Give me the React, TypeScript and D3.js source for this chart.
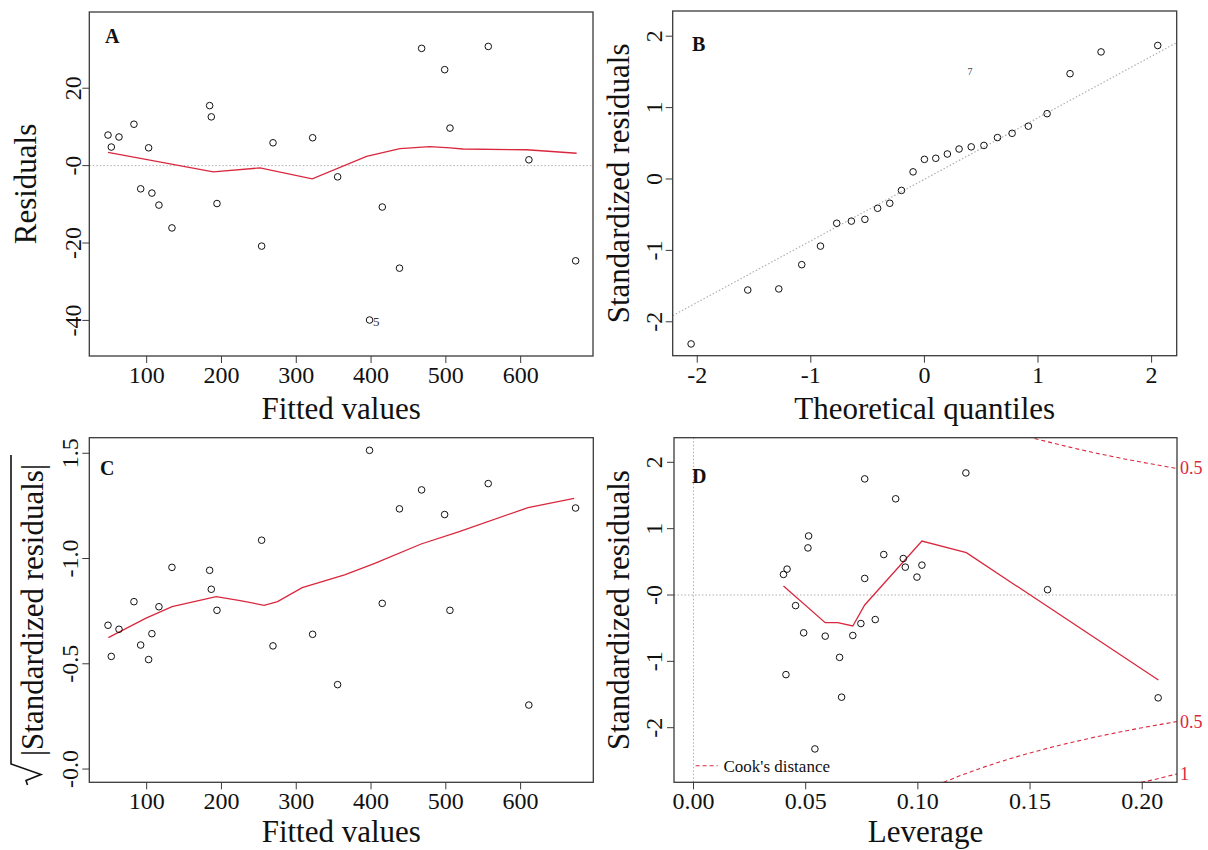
import React from "react";
import * as d3 from "d3";

const FONT = "'Liberation Serif','Times New Roman',Times,serif";
const RED = "#d9283e";
const GREY_DOT = "#b0b0b0";

// ---------- Panel A / C data (Residuals vs Fitted, Scale-Location) ----------
const fittedValues = [48.3, 52.7, 63, 83, 92, 102.6, 107, 116.4, 133.8, 184.2, 186.4, 194, 253.7, 268.9, 321.9, 355.3, 398, 415, 438, 467.6, 498.4, 505.5, 556.7, 611, 673.5];
const residuals = [7.9, 4.8, 7.4, 10.7, -6.0, 4.6, -7.1, -10.2, -16.1, 15.5, 12.6, -9.8, -20.8, 5.9, 7.2, -2.9, -39.9, -10.7, -26.5, 30.3, 24.8, 9.7, 30.8, 1.5, -24.6];
const sqrtStdResiduals = [0.683, 0.535, 0.664, 0.795, 0.589, 0.52, 0.643, 0.771, 0.958, 0.944, 0.854, 0.754, 1.087, 0.585, 0.64, 0.401, 1.514, 0.787, 1.236, 1.326, 1.209, 0.754, 1.356, 0.304, 1.24];
const smoothAx = [48.3, 189, 251.5, 321.4, 394, 438.6, 478.7, 505.5, 523, 608, 674.8];
const smoothAy = [3.4, -1.6, -0.6, -3.4, 2.4, 4.4, 4.9, 4.6, 4.3, 4.1, 3.2];
const smoothCx = [48.8, 98.5, 134, 193, 225, 257, 275, 308, 364.6, 405, 467, 518, 610, 671.6];
const smoothCy = [0.624, 0.716, 0.771, 0.819, 0.8, 0.778, 0.795, 0.862, 0.922, 0.977, 1.069, 1.128, 1.242, 1.286];

// ---------- Panel B data (Normal Q-Q) ----------
const theoreticalQuantiles = [-2.054, -1.555, -1.282, -1.08, -0.915, -0.772, -0.643, -0.524, -0.412, -0.305, -0.202, -0.1, 0, 0.1, 0.202, 0.305, 0.412, 0.524, 0.643, 0.772, 0.915, 1.08, 1.282, 1.555, 2.054];
const sortedStdResiduals = [-2.31, -1.555, -1.54, -1.2, -0.94, -0.62, -0.59, -0.565, -0.41, -0.34, -0.16, 0.1, 0.275, 0.29, 0.35, 0.42, 0.45, 0.47, 0.58, 0.64, 0.74, 0.915, 1.475, 1.78, 1.87];
const qqLineX = [-2.216, 2.221];
const qqLineY = [-1.914, 1.91];

// ---------- Panel D data (Residuals vs Leverage) ----------
const leverage = [0.0401, 0.0417, 0.0412, 0.0455, 0.0491, 0.051, 0.0513, 0.0541, 0.0587, 0.0651, 0.066, 0.071, 0.0746, 0.0763, 0.0763, 0.081, 0.0848, 0.0901, 0.0935, 0.0944, 0.0996, 0.1018, 0.1214, 0.1578, 0.2071];
const stdResidualsD = [0.31, 0.39, -1.2, -0.16, -0.57, 0.71, 0.89, -2.32, -0.62, -0.94, -1.54, -0.61, -0.43, 0.25, 1.75, -0.37, 0.61, 1.45, 0.55, 0.42, 0.27, 0.45, 1.84, 0.08, -1.55];
const smoothDx = [0.0401, 0.0587, 0.0643, 0.071, 0.0763, 0.1018, 0.1216, 0.2072];
const smoothDy = [0.136, -0.417, -0.417, -0.467, -0.15, 0.814, 0.638, -1.28];
const cookUpper05H = [0.152, 0.16, 0.17, 0.18, 0.19, 0.2, 0.2155];
const cookUpper05Y = [2.36, 2.291, 2.21, 2.134, 2.065, 2.0, 1.907];
const cookLower05H = [0.1115, 0.12, 0.13, 0.14, 0.15, 0.16, 0.17, 0.18, 0.19, 0.2, 0.2155];
const cookLower05Y = [-2.823, -2.708, -2.587, -2.478, -2.38, -2.291, -2.21, -2.134, -2.065, -2.0, -1.907];
const cookLower1H = [0.1995, 0.205, 0.2155];
const cookLower1Y = [-2.823, -2.785, -2.697];

// ---------- Ticks ----------
const fittedTicks = [100, 200, 300, 400, 500, 600];
const fittedTickLabels = ["100", "200", "300", "400", "500", "600"];
const residTicks = [20, 0, -20, -40];
const residTickLabels = ["20", "-0", "-20", "-40"];
const qqXTicks = [-2, -1, 0, 1, 2];
const qqXTickLabels = ["-2", "-1", "0", "1", "2"];
const qqYTicks = [2, 1, 0, -1, -2];
const qqYTickLabels = ["2", "1", "0", "-1", "-2"];
const slYTicks = [1.5, 1.0, 0.5, 0.0];
const slYTickLabels = ["1.5", "-1.0", "-0.5", "-0.0"];
const levXTicks = [0, 0.05, 0.1, 0.15, 0.2];
const levXTickLabels = ["0.00", "0.05", "0.10", "0.15", "0.20"];
const levYTicks = [2, 1, 0, -1, -2];
const levYTickLabels = ["2", "1", "-0", "-1", "-2"];

type Box = { left: number; right: number; top: number; bottom: number };

type PanelProps = {
  box: Box;
  xDomain: [number, number];
  yDomain: [number, number];
  xTicks: number[];
  xTickLabels: string[];
  yTicks: number[];
  yTickLabels: string[];
  xTitle: string;
  xTitleY: number;
  xTickY: number;
  yTickX: number;
  yTitle?: string;
  yTitleX: number;
  letter: string;
  letterX: number;
  letterY: number;
  render: (x: d3.ScaleLinear<number, number>, y: d3.ScaleLinear<number, number>) => React.ReactNode;
};

const TICK_FS = 24;
const TITLE_FS = 31;

function Panel(p: PanelProps) {
  const x = d3.scaleLinear().domain(p.xDomain).range([p.box.left, p.box.right]);
  const y = d3.scaleLinear().domain(p.yDomain).range([p.box.bottom, p.box.top]);
  const cx = (p.box.left + p.box.right) / 2;
  const cy = (p.box.top + p.box.bottom) / 2;
  const tickLen = 7;
  return (
    <g>
      <g>{p.render(x, y)}</g>
      <rect x={p.box.left} y={p.box.top} width={p.box.right - p.box.left} height={p.box.bottom - p.box.top} fill="none" stroke="#3a3a3a" strokeWidth={1.3} />
      {p.xTicks.map((t, i) => (
        <g key={"xt" + i}>
          <line x1={x(t)} x2={x(t)} y1={p.box.bottom} y2={p.box.bottom + tickLen} stroke="#3a3a3a" strokeWidth={1} />
          <text x={x(t)} y={p.xTickY} textAnchor="middle" fontSize={TICK_FS} fontFamily={FONT} fill="#111">{p.xTickLabels[i]}</text>
        </g>
      ))}
      {p.yTicks.map((t, i) => (
        <g key={"yt" + i}>
          <line x1={p.box.left - tickLen} x2={p.box.left} y1={y(t)} y2={y(t)} stroke="#3a3a3a" strokeWidth={1} />
          <text transform={`translate(${p.yTickX},${y(t)}) rotate(-90)`} textAnchor="middle" fontSize={TICK_FS} fontFamily={FONT} fill="#111">{p.yTickLabels[i]}</text>
        </g>
      ))}
      <text x={cx} y={p.xTitleY} textAnchor="middle" fontSize={TITLE_FS} fontFamily={FONT} fill="#111">{p.xTitle}</text>
      {p.yTitle && (
        <text transform={`translate(${p.yTitleX},${cy}) rotate(-90)`} textAnchor="middle" fontSize={TITLE_FS} fontFamily={FONT} fill="#111">{p.yTitle}</text>
      )}
      <text x={p.letterX} y={p.letterY} fontSize={20} fontWeight="bold" fontFamily={FONT} fill="#111">{p.letter}</text>
    </g>
  );
}

function Circles({ xs, ys, x, y }: { xs: number[]; ys: number[]; x: any; y: any }) {
  return (
    <g>
      {xs.map((v, i) => (
        <circle key={i} cx={x(v)} cy={y(ys[i])} r={3.3} fill="none" stroke="#111" strokeWidth={1} />
      ))}
    </g>
  );
}

function linePath(xs: number[], ys: number[], x: any, y: any) {
  const pts: [number, number][] = xs.map((v, i) => [x(v), y(ys[i])]);
  return d3.line()(pts) || "";
}

export default function App() {
  const boxA: Box = { left: 89.3, right: 593, top: 12, bottom: 356 };
  const boxB: Box = { left: 672.7, right: 1176.7, top: 11, bottom: 355.7 };
  const boxC: Box = { left: 89.3, right: 593.3, top: 437.7, bottom: 782.3 };
  const boxD: Box = { left: 674, right: 1177, top: 437.7, bottom: 782.3 };

  return (
    <svg width={1208} height={850} style={{ position: "absolute", left: 0, top: 0, background: "#fff" }}>
      <rect x={0} y={0} width={1208} height={850} fill="#fff" />
      {/* Panel A */}
      <Panel
        box={boxA}
        xDomain={[23.3, 696.7]}
        yDomain={[-49.2, 39.7]}
        xTicks={fittedTicks}
        xTickLabels={fittedTickLabels}
        yTicks={residTicks}
        yTickLabels={residTickLabels}
        xTitle="Fitted values"
        xTitleY={419}
        xTickY={383}
        yTickX={81}
        yTitle="Residuals"
        yTitleX={36}
        letter="A"
        letterX={105}
        letterY={43}
        render={(x, y) => (
          <g>
            <line x1={boxA.left} x2={boxA.right} y1={y(0)} y2={y(0)} stroke={GREY_DOT} strokeWidth={1} strokeDasharray="1.5,2" />
            <path d={linePath(smoothAx, smoothAy, x, y)} fill="none" stroke={RED} strokeWidth={1.3} />
            <Circles xs={fittedValues} ys={residuals} x={x} y={y} />
            <text x={x(398) + 3.5} y={y(-39.9) + 5.7} fontSize={13} fontFamily={FONT} fill="#333">5</text>
          </g>
        )}
      />
      {/* Panel B */}
      <Panel
        box={boxB}
        xDomain={[-2.216, 2.221]}
        yDomain={[-2.475, 2.353]}
        xTicks={qqXTicks}
        xTickLabels={qqXTickLabels}
        yTicks={qqYTicks}
        yTickLabels={qqYTickLabels}
        xTitle="Theoretical quantiles"
        xTitleY={419}
        xTickY={383}
        yTickX={662}
        yTitle="Standardized residuals"
        yTitleX={629}
        letter="B"
        letterX={692}
        letterY={51}
        render={(x, y) => (
          <g>
            <path d={linePath(qqLineX, qqLineY, x, y)} fill="none" stroke={GREY_DOT} strokeWidth={1.2} strokeDasharray="1.5,2" />
            <Circles xs={theoreticalQuantiles} ys={sortedStdResiduals} x={x} y={y} />
            <text x={x(0.38)} y={y(1.457)} fontSize={10} fontFamily={FONT} fill="#444">7</text>
          </g>
        )}
      />
      {/* Panel C */}
      <Panel
        box={boxC}
        xDomain={[23.3, 697.2]}
        yDomain={[-0.063, 1.574]}
        xTicks={fittedTicks}
        xTickLabels={fittedTickLabels}
        yTicks={slYTicks}
        yTickLabels={slYTickLabels}
        xTitle="Fitted values"
        xTitleY={842}
        xTickY={809}
        yTickX={78}
        yTitleX={43}
        letter="C"
        letterX={100}
        letterY={475}
        render={(x, y) => (
          <g>
            <path d={linePath(smoothCx, smoothCy, x, y)} fill="none" stroke={RED} strokeWidth={1.3} />
            <Circles xs={fittedValues} ys={sqrtStdResiduals} x={x} y={y} />
          </g>
        )}
      />
      {/* sqrt(|Standardized residuals|) title for panel C */}
      <text transform={`translate(43,${(boxC.top + boxC.bottom) / 2}) rotate(-90)`} textAnchor="middle" fontSize={TITLE_FS} fontFamily={FONT} fill="#111">|Standardized residuals|</text>
      <path d="M 27.5 785 L 26 780.5 L 41 774.5 L 11 764 L 11 455" fill="none" stroke="#111" strokeWidth={1.6} />
      {/* Panel D */}
      <Panel
        box={boxD}
        xDomain={[-0.0087, 0.2155]}
        yDomain={[-2.823, 2.371]}
        xTicks={levXTicks}
        xTickLabels={levXTickLabels}
        yTicks={levYTicks}
        yTickLabels={levYTickLabels}
        xTitle="Leverage"
        xTitleY={842}
        xTickY={809}
        yTickX={662}
        yTitle="Standardized residuals"
        yTitleX={629}
        letter="D"
        letterX={692}
        letterY={483}
        render={(x, y) => (
          <g>
            <line x1={boxD.left} x2={boxD.right} y1={y(0)} y2={y(0)} stroke={GREY_DOT} strokeWidth={1} strokeDasharray="1.5,2" />
            <line x1={x(0)} x2={x(0)} y1={boxD.top} y2={boxD.bottom} stroke={GREY_DOT} strokeWidth={1} strokeDasharray="1.5,2" />
            <path d={linePath(cookUpper05H, cookUpper05Y, x, y)} fill="none" stroke={RED} strokeWidth={1.1} strokeDasharray="4,3" />
            <path d={linePath(cookLower05H, cookLower05Y, x, y)} fill="none" stroke={RED} strokeWidth={1.1} strokeDasharray="4,3" />
            <path d={linePath(cookLower1H, cookLower1Y, x, y)} fill="none" stroke={RED} strokeWidth={1.1} strokeDasharray="4,3" />
            <path d={linePath(smoothDx, smoothDy, x, y)} fill="none" stroke={RED} strokeWidth={1.3} />
            <Circles xs={leverage} ys={stdResidualsD} x={x} y={y} />
            <text x={boxD.right + 3} y={y(1.907) + 6} fontSize={18} fontFamily={FONT} fill={RED}>0.5</text>
            <text x={boxD.right + 3} y={y(-1.907) + 6} fontSize={18} fontFamily={FONT} fill={RED}>0.5</text>
            <text x={boxD.right + 3} y={y(-2.697) + 6} fontSize={18} fontFamily={FONT} fill={RED}>1</text>
            <line x1={695.6} x2={717.7} y1={765.7} y2={765.7} stroke={RED} strokeWidth={1.1} strokeDasharray="4,3" />
            <text x={723.5} y={772} fontSize={17} fontFamily={FONT} fill="#111">Cook's distance</text>
          </g>
        )}
      />
    </svg>
  );
}
